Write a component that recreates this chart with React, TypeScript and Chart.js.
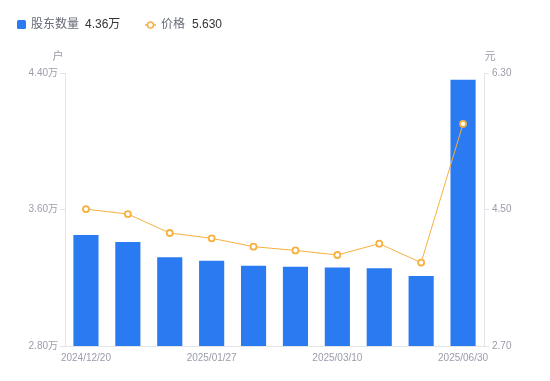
import React, { useEffect, useRef } from "react";
import { Chart, registerables } from "chart.js";

Chart.register(...registerables);

const dates = [
  "2024/12/20", "2024/12/31", "2025/01/10", "2025/01/27", "2025/02/14",
  "2025/02/28", "2025/03/10", "2025/03/31", "2025/04/30", "2025/06/30",
];
const holders = [3.45, 3.41, 3.32, 3.30, 3.27, 3.265, 3.26, 3.255, 3.21, 4.36];
const prices = [4.505, 4.44, 4.19, 4.12, 4.01, 3.96, 3.90, 4.05, 3.80, 5.63];
const leftTicks = [2.8, 3.6, 4.4];
const rightTicks = [2.7, 4.5, 6.3];

const FONT = "'Liberation Sans', Arial, 'Noto Sans CJK SC', sans-serif";
const GRAY = "#9a9cab";
const LINE = "#e3e4e8";
const BLUE = "#2a7af2";
const ORANGE = "#f8b03e";

const overlay = {
  id: "overlay",
  afterDraw(chart: any) {
    const ctx = chart.ctx;
    const ca = chart.chartArea;
    ctx.save();
    ctx.textBaseline = "middle";
    ctx.font = `12px ${FONT}`;
    ctx.fillStyle = BLUE;
    ctx.beginPath();
    (ctx as any).roundRect ? ctx.roundRect(17, 20, 9, 9, 1.5) : ctx.rect(17, 20, 9, 9);
    ctx.fill();
    ctx.textAlign = "left";
    ctx.fillStyle = "#666a75";
    ctx.fillText("股东数量", 31, 25);
    ctx.fillStyle = "#333333";
    ctx.fillText(holders[holders.length - 1].toFixed(2) + "万", 85, 25);
    ctx.strokeStyle = ORANGE;
    ctx.lineWidth = 1.5;
    ctx.beginPath();
    ctx.moveTo(145, 25);
    ctx.lineTo(156, 25);
    ctx.stroke();
    ctx.beginPath();
    ctx.arc(150.5, 25, 3, 0, Math.PI * 2);
    ctx.fillStyle = "#fff";
    ctx.fill();
    ctx.stroke();
    ctx.fillStyle = "#666a75";
    ctx.fillText("价格", 161, 25);
    ctx.fillStyle = "#333333";
    ctx.fillText(prices[prices.length - 1].toFixed(3), 192, 25);
    ctx.font = `11px ${FONT}`;
    ctx.fillStyle = GRAY;
    ctx.textAlign = "center";
    ctx.fillText("户", ca.left - 7, 57);
    ctx.fillText("元", ca.right + 6, 57);
    ctx.restore();
  },
};

export default function App() {
  const ref = useRef<HTMLCanvasElement | null>(null);
  useEffect(() => {
    if (!ref.current) return;
    const chart = new Chart(ref.current, {
      data: {
        labels: dates,
        datasets: [
          {
            type: "line",
            label: "价格",
            data: prices,
            yAxisID: "y1",
            borderColor: ORANGE,
            borderWidth: 1,
            pointRadius: 3,
            pointBorderWidth: 1.8,
            pointBackgroundColor: "#fff",
            pointBorderColor: ORANGE,
            tension: 0,
            order: 0,
          },
          {
            type: "bar",
            label: "股东数量",
            data: holders,
            yAxisID: "y",
            backgroundColor: BLUE,
            categoryPercentage: 0.6,
            barPercentage: 1,
            order: 1,
          },
        ],
      } as any,
      options: {
        animation: false,
        responsive: false,
        layout: { padding: { top: 73, left: 0, right: 0, bottom: 0 } },
        plugins: { legend: { display: false }, tooltip: { enabled: false } },
        scales: {
          x: {
            offset: true,
            grid: { display: false, drawTicks: false },
            border: { color: LINE },
            afterFit: (s: any) => { s.height = 35; },
            ticks: {
              autoSkip: false,
              maxRotation: 0,
              padding: 6,
              color: GRAY,
              font: { size: 10, family: FONT },
              callback: (_v: any, i: number) => (i % 3 === 0 ? dates[i] : ""),
            },
          },
          y: {
            position: "left",
            min: leftTicks[0],
            max: leftTicks[leftTicks.length - 1],
            afterFit: (s: any) => { s.width = 65; },
            afterBuildTicks: (s: any) => { s.ticks = leftTicks.map((v) => ({ value: v })); },
            grid: { drawOnChartArea: false, color: LINE, tickLength: 5 },
            border: { color: LINE },
            ticks: {
              color: GRAY,
              padding: 2,
              font: { size: 10, family: FONT },
              callback: (v: any) => Number(v).toFixed(2) + "万",
            },
          },
          y1: {
            position: "right",
            min: rightTicks[0],
            max: rightTicks[rightTicks.length - 1],
            afterFit: (s: any) => { s.width = 66; },
            afterBuildTicks: (s: any) => { s.ticks = rightTicks.map((v) => ({ value: v })); },
            grid: { drawOnChartArea: false, color: LINE, tickLength: 5 },
            border: { color: LINE },
            ticks: {
              color: GRAY,
              padding: 3,
              font: { size: 10, family: FONT },
              callback: (v: any) => Number(v).toFixed(2),
            },
          },
        },
      } as any,
      plugins: [overlay],
    });
    return () => chart.destroy();
  }, []);
  return (
    <div style={{ position: "fixed", left: 0, top: 0, width: 550, height: 381, background: "#fff" }}>
      <canvas ref={ref} width={550} height={381} style={{ width: 550, height: 381 }} />
    </div>
  );
}
